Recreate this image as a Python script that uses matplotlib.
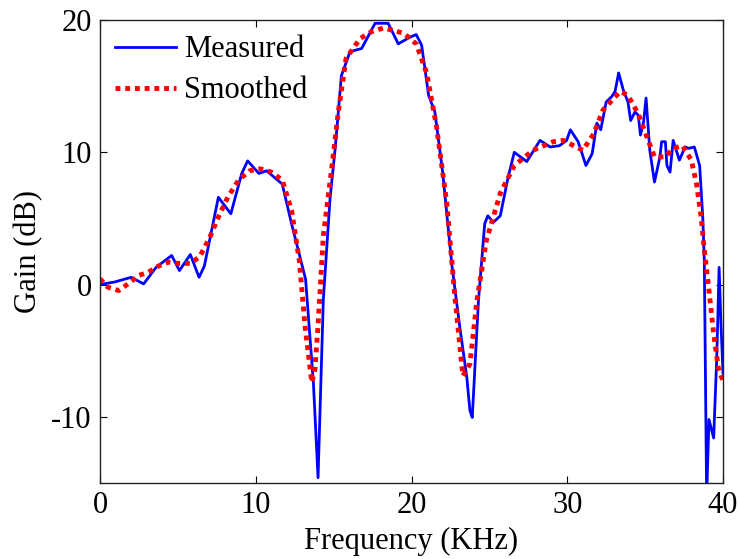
import matplotlib
matplotlib.use("Agg")
import matplotlib.pyplot as plt

plt.rcParams['font.family'] = ['Liberation Serif', 'DejaVu Serif']
plt.rcParams['axes.unicode_minus'] = False

meas_x = [0.0, 0.96, 2.0, 2.8, 3.6, 4.6, 5.1, 5.8, 6.36, 6.7, 7.6, 8.4, 9.1, 9.48, 10.2,
          10.7, 11.7, 12.3, 13.2, 13.7, 14.0, 14.34, 14.77, 15.1, 15.5, 16.05, 16.8, 17.66,
          18.5, 19.15, 19.9, 20.3, 20.65, 21.1, 21.5, 22.0, 22.6, 23.1, 23.55, 23.75, 23.9,
          24.3, 24.7, 24.9, 25.25, 25.7, 26.2, 26.6, 27.4, 28.25, 28.9, 29.5, 29.96, 30.2,
          30.7, 31.2, 31.6, 31.9, 32.15, 32.5, 32.85, 33.07, 33.3, 33.6, 33.9, 34.07, 34.35,
          34.56, 34.7, 34.9, 35.06, 35.3, 35.6, 35.95, 36.06, 36.3, 36.4, 36.6, 36.8, 37.2,
          37.56, 37.8, 38.16, 38.5, 38.7, 38.8, 38.95, 39.1, 39.4, 39.6, 39.75, 39.87, 40.0]
meas_y = [0.0, 0.2, 0.55, 0.05, 1.3, 2.2, 1.06, 2.27, 0.55, 1.4, 6.6, 5.35, 8.4, 9.35, 8.4,
          8.6, 7.6, 4.6, 0.4, -7.4, -14.6, -1.1, 6.5, 10.3, 15.8, 17.6, 17.85, 19.75,
          19.75, 18.2, 18.7, 18.9, 18.1, 14.3, 13.05, 8.5, 1.4, -3.2, -7.0, -9.5, -10.05,
          -1.2, 4.6, 5.2, 4.7, 5.2, 8.1, 10.0, 9.3, 10.9, 10.4, 10.5, 10.9, 11.7,
          10.8, 9.0, 9.9, 12.2, 11.7, 13.8, 14.2, 14.6, 16.0, 14.7, 13.8, 12.4, 13.05,
          12.8, 11.3, 12.3, 14.1, 10.15, 7.75, 9.65, 10.8, 10.8, 9.0, 8.5, 10.9, 9.4,
          10.4, 10.3, 10.4, 9.0, 5.1, 1.8, -16.0, -10.2, -11.6, -5.5, 1.3, -3.0, -6.7]

smooth_x = [0.0, 0.5, 1.2, 1.8, 2.5, 3.1, 3.75, 4.4, 5.0, 5.8, 6.4, 7.06, 7.6, 8.2, 8.9,
            9.6, 10.3, 11.0, 11.7, 12.3, 12.8, 13.16, 13.6, 13.8, 14.0, 14.34, 14.9, 15.3,
            15.8, 16.7, 17.4, 18.2, 19.5, 20.3, 20.97, 21.6, 22.26, 22.8, 23.3, 23.75, 24.2,
            24.8, 25.7, 26.6, 27.8, 29.1, 29.75, 31.0, 31.7, 32.3, 32.85, 33.4, 33.9, 34.56,
            35.1, 35.6, 36.3, 36.8, 37.4, 37.97, 38.3, 38.6, 38.8, 39.1, 39.4, 39.7, 40.0]
smooth_y = [0.43, -0.2, -0.45, 0.05, 0.7, 0.93, 1.4, 1.7, 1.6, 1.6, 2.1, 3.6, 5.1, 6.6, 7.9,
            8.6, 8.75, 8.5, 7.9, 5.6, 1.8, -3.1, -7.4, -6.4, -3.1, 3.7, 9.0, 13.05,
            17.1, 18.6, 19.1, 19.4, 19.0, 18.2, 16.0, 12.0, 6.2, -1.1, -6.9, -6.0, -1.2,
            3.3, 6.9, 9.0, 10.15, 10.8, 10.9, 10.15, 11.4, 13.2, 13.9, 14.6, 14.3, 12.9,
            11.2, 9.65, 9.65, 10.3, 10.5, 9.4, 7.6, 5.1, 2.6, -0.45, -3.7, -6.3, -7.3]

x_ticks = [0, 10, 20, 30, 40]
y_ticks = [-10, 0, 10, 20]

fig = plt.figure(figsize=(7.39, 5.59), dpi=100)
ax = fig.add_axes([100/739, 76/559, 623/739, 463/559])

ax.plot(meas_x, meas_y, color='#0000ff', lw=2.0, label='Measured')
ax.plot(smooth_x, smooth_y, color='#ff0000', lw=3.5, linestyle=(0, (1, 1)),
        dash_capstyle='butt', label='Smoothed')

ax.set_xlim(0, 40)
ax.set_ylim(-15, 20)
ax.set_xticks(x_ticks)
ax.set_yticks(y_ticks)
ax.tick_params(direction='in', top=True, right=True, length=5, width=0.8,
               labelsize=22, pad=6)
for s in ax.spines.values():
    s.set_linewidth(1.0)
    s.set_color('#222222')

ax.set_xlabel('Frequency (KHz)', fontsize=22, labelpad=5)
ax.set_ylabel('Gain (dB)', fontsize=22, labelpad=6)

ax.legend(loc='upper left', frameon=False, fontsize=22, handlelength=2.0,
          handletextpad=0.25, labelspacing=0.4, borderaxespad=0.1,
          bbox_to_anchor=(0.0, 1.0))

fig.savefig('out.png', dpi=100)
